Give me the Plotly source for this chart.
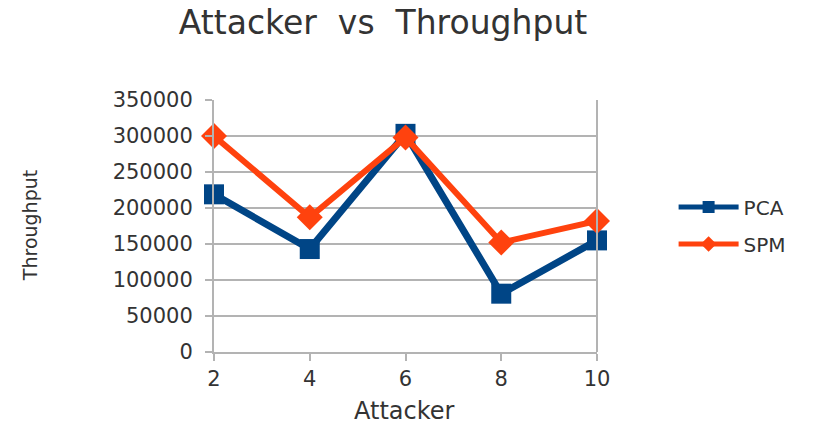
import plotly.graph_objects as go

# Number of attackers on the x axis
attackers = [2, 4, 6, 8, 10]

# Throughput measured for each detection scheme
pca_throughput = [219000, 143000, 303000, 81000, 155000]
spm_throughput = [300000, 187000, 298000, 152000, 182000]

y_ticks = [0, 50000, 100000, 150000, 200000, 250000, 300000, 350000]

FONT = "DejaVu Sans"
TEXT = "#333333"
GRID = "#b3b3b3"

fig = go.Figure()
fig.add_trace(go.Scatter(
    x=attackers, y=pca_throughput, name="PCA", mode="lines+markers",
    legendgroup="pca",
    line=dict(color="#004586", width=7),
    marker=dict(symbol="square", size=20, color="#004586"),
    cliponaxis=False,
))
fig.add_trace(go.Scatter(
    x=attackers, y=spm_throughput, name="SPM", mode="lines+markers",
    legendgroup="spm",
    line=dict(color="#ff420e", width=6),
    marker=dict(symbol="diamond", size=20, color="#ff420e"),
    cliponaxis=False,
))

fig.update_layout(
    width=822, height=426,
    margin=dict(l=214, r=225, t=100, b=74),
    paper_bgcolor="white", plot_bgcolor="white",
    font=dict(family=FONT, color=TEXT),
    title=dict(text="Attacker  vs  Throughput", x=0.466, xanchor="center",
               y=0.948, yanchor="middle",
               font=dict(family=FONT, size=33, color=TEXT)),
    legend=dict(x=1.2, y=0.502, xanchor="left", yanchor="middle",
                font=dict(family=FONT, size=20, color=TEXT),
                itemsizing="constant", itemwidth=60, tracegroupgap=8),
    showlegend=True,
)

fig.update_xaxes(
    range=[2, 10], tickvals=attackers, ticktext=[str(a) for a in attackers],
    showgrid=False, showline=True, linecolor=GRID, linewidth=2,
    ticks="outside", ticklen=7, tickcolor=GRID, tickwidth=2,
    tickfont=dict(family=FONT, size=21, color=TEXT),
    zeroline=False,
)
fig.update_yaxes(
    range=[0, 350000], tickvals=y_ticks, ticktext=[str(v) for v in y_ticks],
    showgrid=True, gridcolor=GRID, gridwidth=2,
    showline=True, linecolor=GRID, linewidth=2,
    ticks="outside", ticklen=7, tickcolor=GRID, tickwidth=2,
    ticklabelstandoff=8,
    tickfont=dict(family=FONT, size=21, color=TEXT),
    zeroline=False,
)

# Axis titles
fig.add_annotation(text="Attacker", xref="paper", yref="paper", x=0.498, y=-0.234,
                   xanchor="center", yanchor="middle", showarrow=False,
                   font=dict(family=FONT, size=24, color=TEXT))
fig.add_annotation(text="Throughput", xref="paper", yref="paper", x=-0.48, y=0.5,
                   xanchor="center", yanchor="middle", textangle=-90, showarrow=False,
                   font=dict(family=FONT, size=19, color=TEXT))

# Right-hand frame edge of the plot area
fig.add_shape(type="line", xref="paper", yref="paper", x0=1, x1=1, y0=0, y1=1,
              line=dict(color=GRID, width=2))

fig.write_html("out.html")
